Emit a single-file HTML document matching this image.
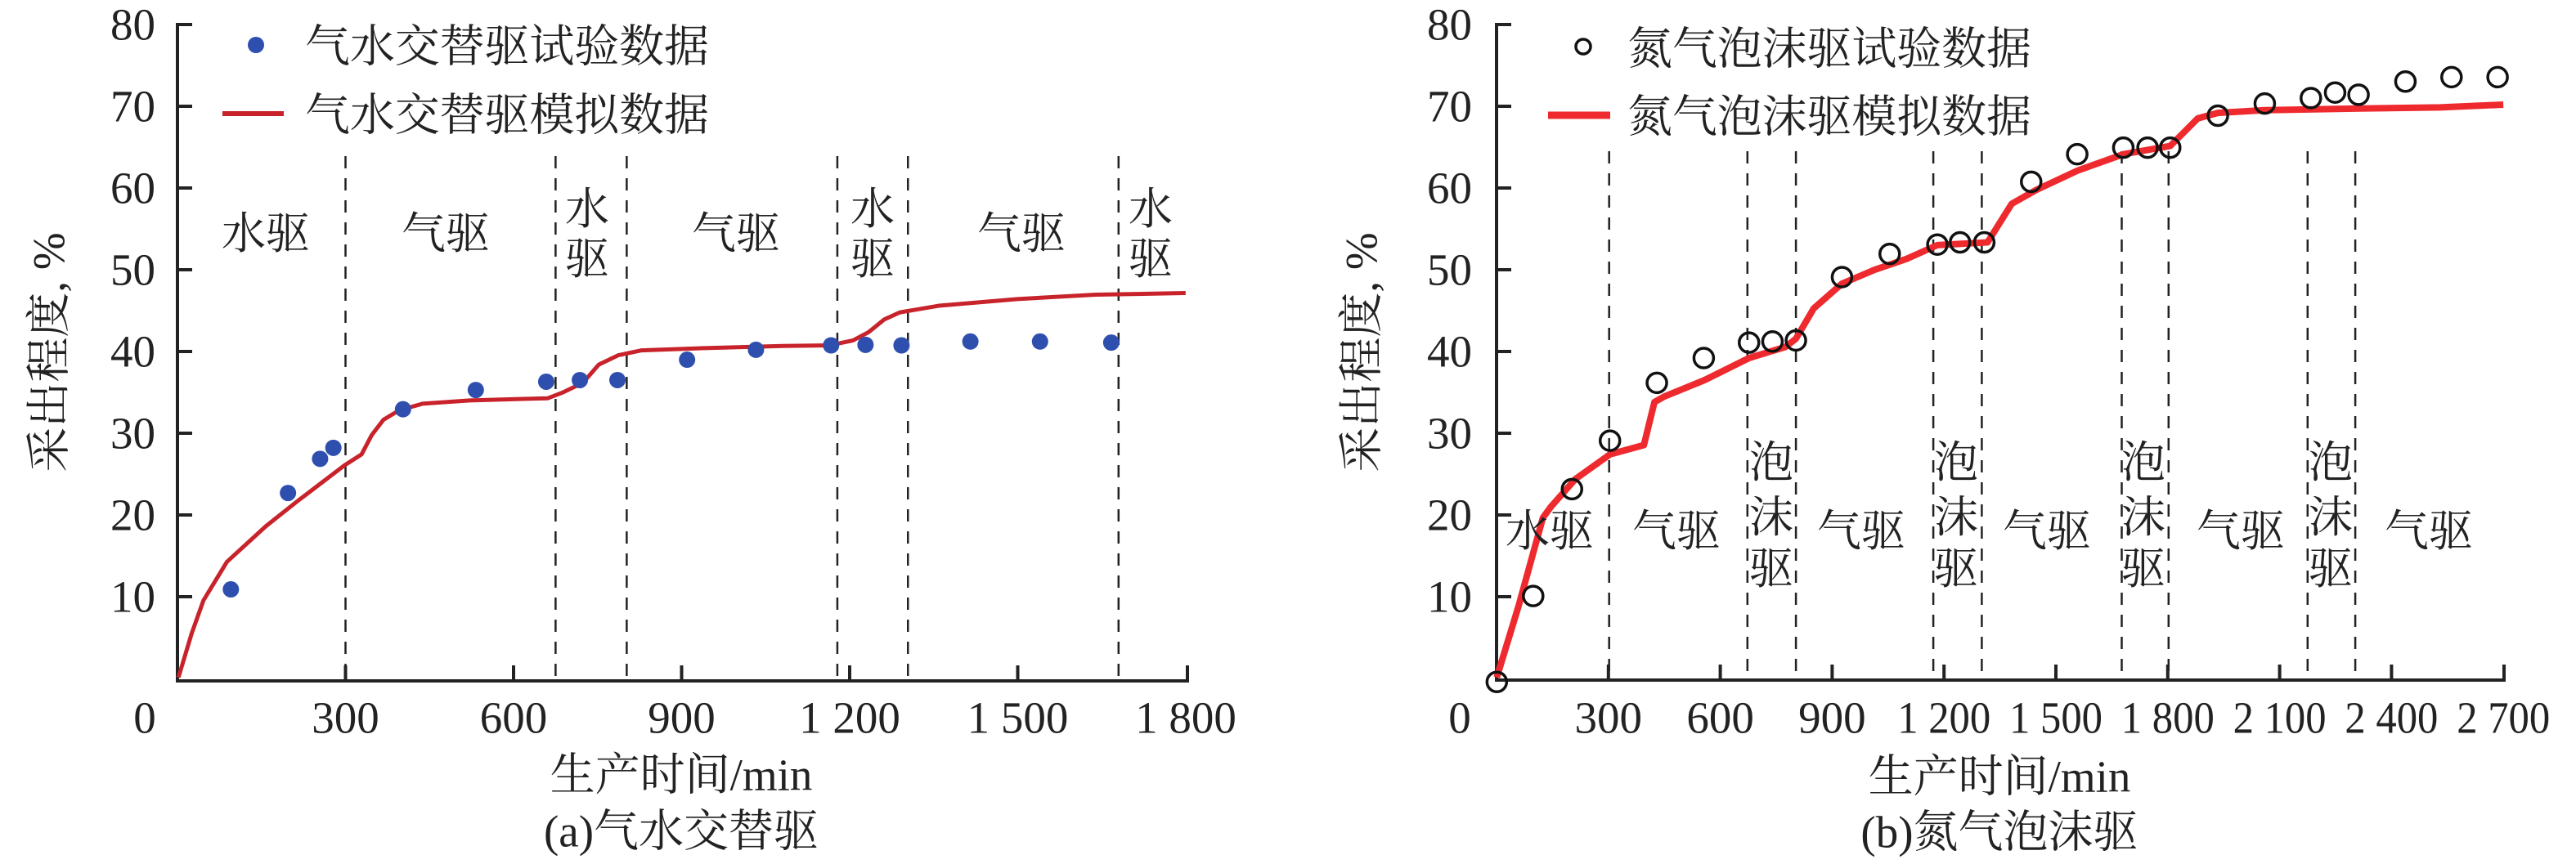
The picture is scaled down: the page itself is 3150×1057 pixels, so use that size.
<!DOCTYPE html>
<html><head><meta charset="utf-8"><style>
html,body{margin:0;padding:0;background:#fff;}
svg{display:block;}
text{font-family:"Liberation Serif","Noto Serif CJK SC","Noto Sans CJK SC",serif;fill:#222;}
</style></head><body>
<svg id="s" width="3150" height="1057" viewBox="0 0 3150 1057" xmlns="http://www.w3.org/2000/svg"></svg>
<script>
const S=document.getElementById('s');const NS='http://www.w3.org/2000/svg';
function el(t,a,txt){const e=document.createElementNS(NS,t);for(const k in a)e.setAttribute(k,a[k]);if(txt!==undefined)e.textContent=txt;S.appendChild(e);return e;}
function txt(x,y,s,size,anchor,extra){const a=Object.assign({x:x,y:y,'font-size':size,'text-anchor':anchor||'middle','dominant-baseline':'central'},extra||{});return el('text',a,s);}
const Y0=830;
// ---------- LEFT ----------
(function(){
 const X0=217,kx=0.685;const X=t=>X0+t*kx;const Y=v=>Y0-v*10;
 // dashed lines
 [300,675,802,1178,1304,1680].forEach(t=>el('line',{x1:X(t),y1:191,x2:X(t),y2:832,stroke:'#222','stroke-width':2.5,'stroke-dasharray':'15 12'}));
 // axes
 el('polyline',{points:`${X0+18},30 ${X0},30 ${X0},833 1452,833 1452,814`,fill:'none',stroke:'#222','stroke-width':4});
 for(let v=10;v<80;v+=10)el('line',{x1:X0,y1:Y(v),x2:X0+18,y2:Y(v),stroke:'#222','stroke-width':4});
 for(let t=300;t<1800;t+=300)el('line',{x1:X(t),y1:833,x2:X(t),y2:814,stroke:'#222','stroke-width':4});
 for(let v=10;v<=80;v+=10)txt(190,Y(v),String(v),55,'end');
 txt(177,878,'0',55);
 [[300,'300'],[600,'600'],[900,'900'],[1200,'1 200'],[1500,'1 500'],[1800,'1 800']].forEach(a=>txt(X(a[0]),878,a[1],55));
 txt(833,948,'生产时间/min',55);
 txt(833,1017,'(a)气水交替驱',55);
 const yt=txt(0,0,'采出程度, %',55);yt.setAttribute('transform','translate(60,431) rotate(-90)');
 // curve (zoom coords)
 const c=[[228,1230],[245,1150],[260,1090],[290,1020],[340,955],[380,910],[440,845],[462,825],[475,790],[490,762],[510,745],[540,733],[600,727],[700,723],[720,712],[745,695],[765,662],[790,645],[820,636],[900,632],[1000,628],[1060,627],[1090,618],[1110,603],[1130,580],[1150,567],[1200,555],[1300,543],[1400,535],[1515,532]];
 el('polyline',{points:c.map(p=>(p[0]/1.045).toFixed(1)+','+(p[1]/1.484).toFixed(1)).join(' '),fill:'none',stroke:'#c8232b','stroke-width':5,'stroke-linejoin':'round'});
 const d=[[295,1070],[368,895],[409,833],[426,813],[515,743],[608,708],[698,693],[741,690],[789,690],[878,653],[966,635],[1062,627],[1106,626],[1152,627],[1240,620],[1329,620],[1420,622]];
 d.forEach(p=>el('circle',{cx:p[0]/1.045,cy:p[1]/1.484,r:10,fill:'#2f4faf'}));
 // legend
 el('circle',{cx:313,cy:55,r:10,fill:'#2f4faf'});
 el('line',{x1:272,y1:139,x2:347,y2:139,stroke:'#c8232b','stroke-width':6});
 txt(373,57,'气水交替驱试验数据',55,'start',{textLength:494});
 txt(373,141,'气水交替驱模拟数据',55,'start',{textLength:494});
 // region labels
 txt(325,286,'水驱',54);txt(545,286,'气驱',54);txt(900,286,'气驱',54);txt(1249,286,'气驱',54);
 [718,1067,1407].forEach(x=>{txt(x,256,'水',54);txt(x,317,'驱',54);});
})();
// ---------- RIGHT ----------
(function(){
 const X0=1830,kx=0.456;const X=t=>X0+t*kx;const Y=v=>Y0-v*10;
 [1967.7,2136.8,2196.1,2364.1,2423.4,2594.5,2651.8,2821.8,2880.1].forEach(x=>el('line',{x1:x,y1:185,x2:x,y2:832,stroke:'#222','stroke-width':2.5,'stroke-dasharray':'15 12'}));
 el('polyline',{points:`${X0+18},30 ${X0},30 ${X0},832 3062,832 3062,813`,fill:'none',stroke:'#222','stroke-width':4});
 for(let v=10;v<80;v+=10)el('line',{x1:X0,y1:Y(v),x2:X0+18,y2:Y(v),stroke:'#222','stroke-width':4});
 for(let t=300;t<2700;t+=300)el('line',{x1:X(t),y1:832,x2:X(t),y2:813,stroke:'#222','stroke-width':4});
 for(let v=10;v<=80;v+=10)txt(1800,Y(v),String(v),55,'end');
 txt(1785,878,'0',55);
 [[300,'300'],[600,'600'],[900,'900']].forEach(a=>txt(X(a[0]),878,a[1],55));
 [[1200,'1 200'],[1500,'1 500'],[1800,'1 800'],[2100,'2 100'],[2400,'2 400'],[2700,'2 700']].forEach(a=>txt(X(a[0]),878,a[1],55,'middle',{textLength:114,lengthAdjust:'spacingAndGlyphs'}));
 txt(2445,950,'生产时间/min',55);
 txt(2445,1018,'(b)氮气泡沫驱',55);
 const yt=txt(0,0,'采出程度, %',55);yt.setAttribute('transform','translate(1665,431) rotate(-90)');
 const c=[[233,1230],[260,1100],[290,940],[300,920],[330,870],[373,825],[415,808],[428,730],[440,720],[490,690],[545,650],[590,630],[603,615],[625,560],[660,515],[700,490],[740,470],[778,445],[840,440],[870,370],[900,345],[951,310],[1008,280],[1066,265],[1100,215],[1125,205],[1183,200],[1300,197],[1400,195],[1478,190]];
 el('polyline',{points:c.map(p=>(1600+p[0]/1.0116).toFixed(1)+','+(p[1]/1.484).toFixed(1)).join(' '),fill:'none',stroke:'#ee2a2f','stroke-width':8,'stroke-linejoin':'round'});
 const d=[[233,1238],[278,1082],[326,888],[373,800],[431,695],[489,650],[545,622],[574,620],[603,618],[660,503],[719,461],[778,444],[806,440],[836,440],[894,330],[951,280],[1008,268],[1038,268],[1066,268],[1125,210],[1183,188],[1240,178],[1270,168],[1299,172],[1357,148],[1414,140],[1471,140]];
 d.forEach(p=>el('circle',{cx:1600+p[0]/1.0116,cy:p[1]/1.484,r:12,fill:'none',stroke:'#111','stroke-width':3.5}));
 el('circle',{cx:1936,cy:57,r:9,fill:'none',stroke:'#111','stroke-width':3.5});
 el('line',{x1:1893,y1:141,x2:1969,y2:141,stroke:'#ee2a2f','stroke-width':9});
 txt(1990,60,'氮气泡沫驱试验数据',55,'start',{textLength:494});
 txt(1990,143,'氮气泡沫驱模拟数据',55,'start',{textLength:494});
 txt(1895,650,'水驱',54);
 [2050,2276,2503,2740,2970].forEach(x=>txt(x,650,'气驱',54));
 [2166,2392,2621,2850].forEach(x=>{txt(x,566,'泡',54);txt(x,633,'沫',54);txt(x,696,'驱',54);});
})();
</script>
</body></html>
